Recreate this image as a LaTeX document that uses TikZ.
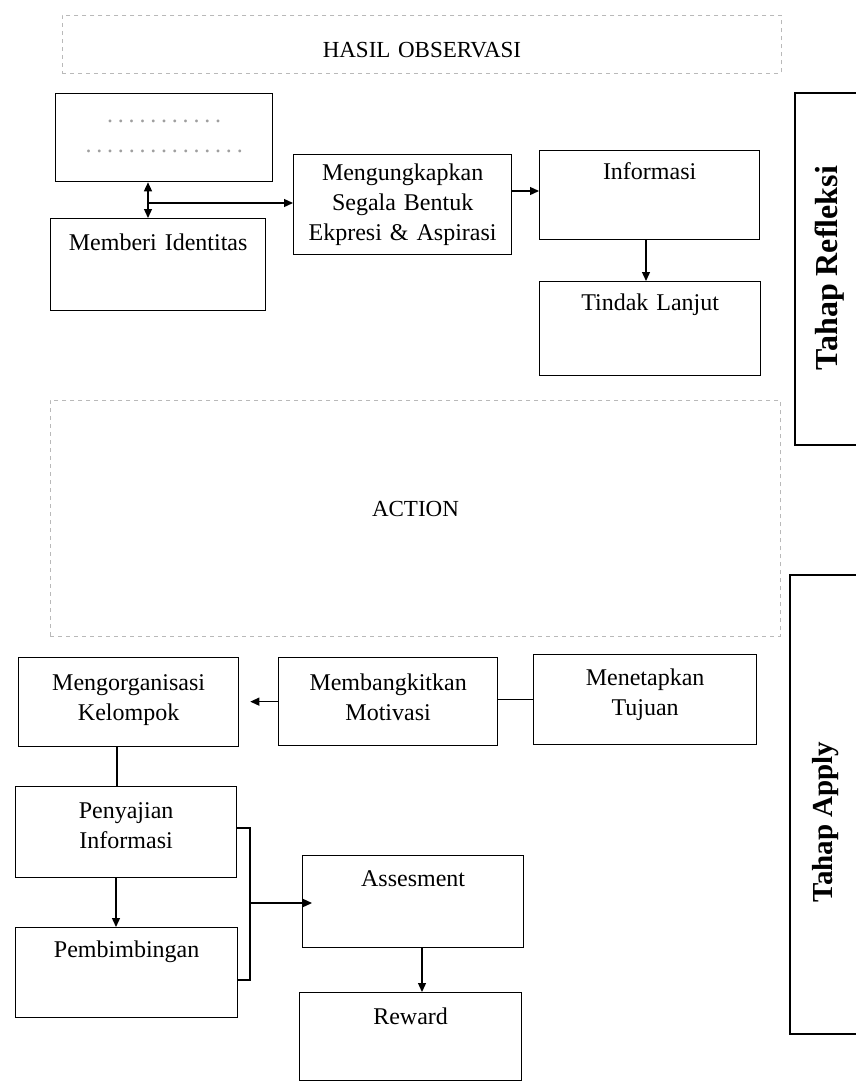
\documentclass[tikz,border=0pt]{standalone}
\usepackage{fontspec}
\setmainfont{Liberation Serif}
\usetikzlibrary{arrows.meta}
\newcommand{\tbx}[3]{\vbox to #1pt{\vskip\dimexpr #2pt-\ht\strutbox\relax\noindent\strut #3\par\vfil}}
\newcommand{\drow}[1]{\foreach \i in {1,...,#1}{\makebox[10.8pt]{.}}}
\tikzset{
  box/.style={draw, line width=1.3pt, inner sep=0pt, anchor=north west, align=center,
    font=\fontsize{24}{30}\selectfont},
  dbox/.style={draw=gray!55, dash pattern=on 4pt off 4pt, line width=0.9pt, inner sep=0pt,
    anchor=north west, align=center, font=\fontsize{23}{30}\selectfont},
  frame/.style={draw, line width=1.1pt},
  lbl/.style={rotate=90, font=\bfseries\fontsize{32}{32}\selectfont},
  link/.style={draw, line width=1.3pt},
  arr/.style={link, -{Triangle[length=9pt,width=8pt]}},
  darr/.style={link, {Triangle[length=9pt,width=8pt]}-{Triangle[length=9pt,width=8pt]}}
}
\begin{document}
\begin{tikzpicture}[x=1pt,y=-1pt]
\useasboundingbox (0,0) rectangle (856,1081);
% dashed boxes
\node[dbox, text width=719pt, minimum width=719pt, minimum height=58pt] (obs) at (62,15) {\tbx{58}{42}{HASIL OBSERVASI}};
\node[dbox, text width=730pt, minimum width=730pt, minimum height=236pt] (act) at (50,400) {\tbx{236}{116}{ACTION}};
% stage frames
\draw[frame] (856,93) -- (795,93) -- (795,445) -- (856,445);
\node[lbl] (refl) at (830,268) {Tahap Refleksi};
\draw[frame] (856,575) -- (790,575) -- (790,1034) -- (856,1034);
\node[lbl, font=\bfseries\fontsize{29}{29}\selectfont] (apply) at (826,822) {Tahap Apply};
% upper boxes
\node[box, text width=217pt, minimum width=217pt, minimum height=88pt] (A) at (55,93)
  {\tbx{88}{29}{\textcolor{gray!75}{\drow{11}}\\\textcolor{gray!75}{\drow{15}}}};
\node[box, text width=215pt, minimum width=215pt, minimum height=92pt] (B) at (50,218) {\tbx{92}{32}{Memberi Identitas}};
\node[box, text width=218pt, minimum width=218pt, minimum height=100pt] (C) at (293,154) {\tbx{100}{26}{Mengungkapkan\\Segala Bentuk\\Ekpresi \& Aspirasi}};
\node[box, text width=220pt, minimum width=220pt, minimum height=89pt] (D) at (539,150) {\tbx{89}{29}{Informasi}};
\node[box, text width=221pt, minimum width=221pt, minimum height=94pt] (E) at (539,281) {\tbx{94}{29}{Tindak Lanjut}};
% lower boxes
\node[box, text width=220pt, minimum width=220pt, minimum height=89pt] (F) at (18,657) {\tbx{89}{33}{Mengorganisasi\\Kelompok}};
\node[box, text width=219pt, minimum width=219pt, minimum height=88pt] (G) at (278,657) {\tbx{88}{33}{Membangkitkan\\Motivasi}};
\node[box, text width=223pt, minimum width=223pt, minimum height=90pt] (H) at (533,654) {\tbx{90}{31}{Menetapkan\\Tujuan}};
\node[box, text width=221pt, minimum width=221pt, minimum height=91pt] (I) at (15,786) {\tbx{91}{32}{Penyajian\\Informasi}};
\node[box, text width=222pt, minimum width=222pt, minimum height=90pt] (J) at (15,927) {\tbx{90}{30}{Pembimbingan}};
\node[box, text width=221pt, minimum width=221pt, minimum height=92pt] (K) at (302,855) {\tbx{92}{31}{Assesment}};
\node[box, text width=222pt, minimum width=222pt, minimum height=88pt] (L) at (299,992) {\tbx{88}{32}{Reward}};
% helper coordinates
\coordinate (ab) at (148,203);
\coordinate (cd) at (0,191);
\coordinate (de) at (646,0);
\coordinate (fi) at (117,0);
\coordinate (ij) at (116,0);
\coordinate (bt) at (250,828);
\coordinate (bm) at (250,903);
\coordinate (bb) at (250,980);
\coordinate (kl) at (422,0);
% connectors
\draw[darr] (ab |- A.south) -- (ab |- B.north);
\draw[arr] (ab) -- (ab -| C.west);
\draw[arr] (C.east |- cd) -- (D.west |- cd);
\draw[arr] (D.south -| de) -- (E.north -| de);
\draw[link] (H.west) -- (G.east |- H.west);
\draw[arr, shorten >=11pt] (G.west) -- (F.east |- G.west);
\draw[link] (F.south -| fi) -- (I.north -| fi);
\draw[arr] (I.south -| ij) -- (J.north -| ij);
\draw[link, line width=1.1pt] (I.east |- bt) -- (bt) -- (bb) -- (J.east |- bb);
\draw[arr, shorten >=-10pt] (bm) -- (K.west |- bm);
\draw[arr] (K.south -| kl) -- (L.north -| kl);
\end{tikzpicture}
\end{document}
